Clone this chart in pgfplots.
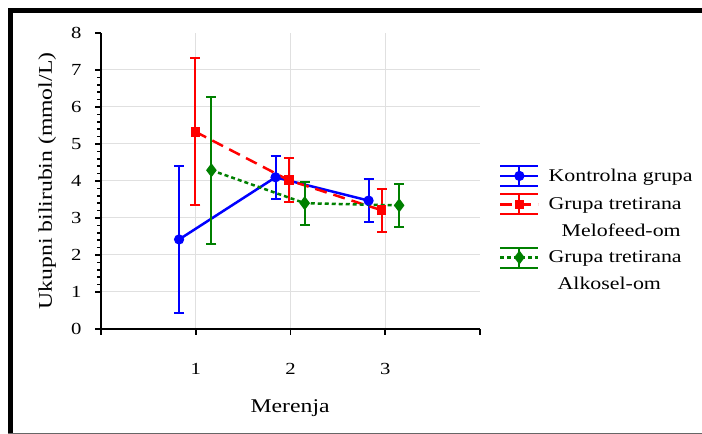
\documentclass[border=0pt]{standalone}
\usepackage{pgfplots}
\pgfplotsset{compat=1.18}
\usepackage{fontspec}
\setmainfont[FakeStretch=1.22]{Liberation Serif}
\definecolor{cblue}{RGB}{0,0,255}
\definecolor{cred}{RGB}{255,0,0}
\definecolor{cgreen}{RGB}{0,128,0}
\pgfplotsset{
  errleg/.style={legend image code/.code={
    \draw[##1,solid,line width=2bp,mark=none] (0bp,-10bp) -- (38bp,-10bp) (0bp,10bp) -- (38bp,10bp) (19bp,-10bp) -- (19bp,10bp);
    \draw[##1,mark=none] (0bp,0bp) -- (38bp,0bp);
    \draw[##1,only marks] plot coordinates {(19bp,0bp)};
  }},
}
\begin{document}
\begin{tikzpicture}[x=1bp,y=1bp]
\path[use as bounding box] (0,0) rectangle (702,434);
\fill[white] (0,0) rectangle (702,434);
\draw[black,line width=5bp] (10.5,0) -- (10.5,423.5) -- (702,423.5);
\draw[gray!80!black,line width=1.2bp] (8,0.6) -- (702,0.6);
\begin{axis}[
  at={(101bp,105bp)}, anchor=south west,
  scale only axis, width=379bp, height=296bp,
  xmin=0, xmax=4, ymin=0, ymax=8,
  axis x line*=bottom, axis y line*=left,
  xtick={1,2,3}, ytick={1,...,7},
  extra x ticks={0,4}, extra x tick labels={,},
  extra y ticks={0,8}, extra y tick style={grid=none},
  extra x tick style={grid=none},
  grid=major, major grid style={black!12, line width=1bp},
  minor y tick num=4,
  tick align=outside, major tick length=6bp, minor tick length=4bp,
  tick style={black, line width=1.6bp},
  axis line style={black, line width=2bp},
  /pgf/number format/assume math mode=true,
  ticklabel style={font=\fontsize{17}{17}\selectfont},
  xticklabel style={anchor=center, yshift=-34bp},
  yticklabel style={anchor=east, xshift=-10bp},
  xlabel={Merenja},
  ylabel={Ukupni bilirubin (mmol/L)},
  label style={font=\fontsize{19.5}{19.5}\selectfont},
  xlabel style={at={(axis description cs:0.499,-0.267)}, anchor=center},
  ylabel style={at={(axis description cs:-0.142,0.5)}, anchor=center},
  legend style={draw=none, fill=none, at={(axis description cs:1.05,0.555)}, anchor=north west,
    font=\fontsize{18}{18}\selectfont, row sep=6.5bp, column sep=7bp, inner sep=0bp,
    cells={anchor=west}},
  error bars/y dir=both, error bars/y explicit,
  error bars/error bar style={line width=2bp, solid},
  error bars/error mark options={rotate=90, mark size=5bp, line width=2bp, solid},
]
\addplot[cblue, line width=2.5bp, solid, mark=*, mark size=3.8bp, mark options={solid}, errleg]
  coordinates {(0.824,2.42) +- (0,1.99) (1.842,4.10) +- (0,0.58) (2.824,3.47) +- (0,0.58)};
\addlegendentry{Kontrolna grupa}
\addplot[cred, line width=2.5bp, dash pattern=on 12bp off 7bp, mark=square*, mark size=3.6bp, mark options={solid}, errleg]
  coordinates {(0.997,5.33) +- (0,1.99) (1.982,4.02) +- (0,0.59) (2.961,3.21) +- (0,0.58)};
\addlegendentry{Grupa tretirana}
\addlegendimage{empty legend}
\addlegendentry{\hspace{13bp}Melofeed-om}
\addplot[cgreen, line width=2.5bp, dash pattern=on 4bp off 3bp, mark=diamond*, mark size=5bp, mark options={solid}, errleg]
  coordinates {(1.165,4.29) +- (0,1.99) (2.15,3.40) +- (0,0.58) (3.147,3.34) +- (0,0.58)};
\addlegendentry{Grupa tretirana}
\addlegendimage{empty legend}
\addlegendentry{\hspace{9bp}Alkosel-om}
\end{axis}
\end{tikzpicture}
\end{document}
